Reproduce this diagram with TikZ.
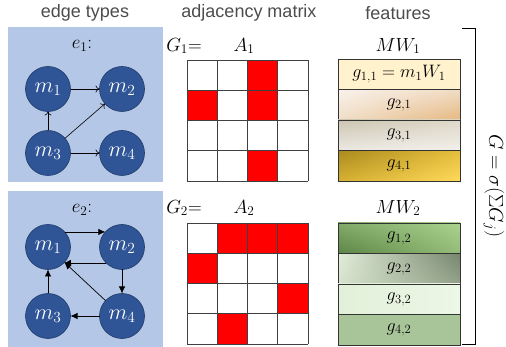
\RequirePackage{fix-cm}
\documentclass[tikz,border=0pt]{standalone}
\usepackage{fontspec}
\newfontfamily\headfont{Liberation Sans}
\usetikzlibrary{positioning}
\usetikzlibrary{arrows.meta}
\usetikzlibrary{shadings}

\definecolor{panelblue}{HTML}{B4C7E7}
\definecolor{nodeblue}{HTML}{2F5597}
\definecolor{nodeline}{HTML}{1F3864}
\definecolor{cellred}{HTML}{FF0000}
% first feature block
\definecolor{creamA}{RGB}{255,242,204}
\definecolor{tanUL}{RGB}{249,242,236}
\definecolor{tanUR}{RGB}{240,220,196}
\definecolor{tanLL}{RGB}{240,222,200}
\definecolor{tanLR}{RGB}{230,184,128}
\definecolor{greyUL}{RGB}{204,197,178}
\definecolor{greyUR}{RGB}{222,216,200}
\definecolor{greyLL}{RGB}{236,233,226}
\definecolor{greyLR}{RGB}{242,240,235}
\definecolor{goldUL}{RGB}{170,138,30}
\definecolor{goldUR}{RGB}{228,190,60}
\definecolor{goldLL}{RGB}{214,176,50}
\definecolor{goldLR}{RGB}{255,218,90}
% second feature block
\definecolor{leafUL}{RGB}{130,170,105}
\definecolor{leafUR}{RGB}{170,210,142}
\definecolor{leafLL}{RGB}{92,134,70}
\definecolor{leafLR}{RGB}{148,188,120}
\definecolor{sageUL}{RGB}{226,237,217}
\definecolor{sageUR}{RGB}{118,134,110}
\definecolor{sageLL}{RGB}{214,227,204}
\definecolor{sageLR}{RGB}{148,162,138}
\definecolor{mintL}{RGB}{226,240,217}
\definecolor{mintR}{RGB}{236,247,230}
\definecolor{mossA}{RGB}{168,197,154}

\tikzstyle{panel} = [fill=panelblue, draw=none]
\tikzstyle{vertex} = [circle, minimum size=45pt, inner sep=0pt, outer sep=0pt,
fill=nodeblue, draw=nodeline, line width=0.6pt, text=white,
font=\fontsize{22}{24}\selectfont]
\tikzstyle{head} = [font=\headfont\fontsize{18}{20}\selectfont, text=black!70]
\tikzstyle{lbl} = [font=\fontsize{19}{21}\selectfont, inner sep=1pt]
\tikzstyle{feat} = [rectangle, minimum width=122pt, minimum height=30.5pt,
outer sep=0pt, draw=black!80, line width=0.6pt,
font=\fontsize{18}{20}\selectfont]
\tikzstyle{openarrow} = [line width=0.6pt, -{To[length=4pt,width=7pt]}]
\tikzstyle{fillarrow} = [line width=0.7pt, -{Latex[length=7pt,width=6.5pt]}]
\tikzstyle{gridline} = [draw=black!75, line width=0.6pt]

\begin{document}
\begin{tikzpicture}[x=1pt, y=-1pt]
  \useasboundingbox (0,0) rectangle (506,347);

  % column headings
  \node[head] (hedge) at (85,13) {edge types};
  \node[head] (hadj) at (249,13) {adjacency matrix};
  \node[head] (hfeat) at (398,13) {features};

  % edge type panels
  \fill[panel] (8,27) rectangle (163,182);
  \fill[panel] (8,191) rectangle (163,347);

  % first edge type
  \node[lbl] (e1) at (82,46) {$e_1$:};
  \node[vertex] (u1) at (48,89) {$m_1$};
  \node[vertex, right=29pt of u1] (u2) {$m_2$};
  \node[vertex, below=19pt of u1] (u3) {$m_3$};
  \node[vertex, right=29pt of u3] (u4) {$m_4$};
  \draw[openarrow] (u1) -- (u2);
  \draw[openarrow] (u3) -- (u1);
  \draw[openarrow] (u3) -- (u2);
  \draw[openarrow] (u3) -- (u4);

  % second edge type
  \node[lbl] (e2) at (82,210) {$e_2$:};
  \node[vertex] (v1) at (48,247) {$m_1$};
  \node[vertex, right=29pt of v1] (v2) {$m_2$};
  \node[vertex, below=24pt of v1] (v3) {$m_3$};
  \node[vertex, right=29pt of v3] (v4) {$m_4$};
  \draw[fillarrow] (v1.42) -- (v2.138);
  \draw[fillarrow] (v2.-135) -- (v1.-45);
  \draw[fillarrow] (v2) -- (v4);
  \draw[fillarrow] (v4) -- (v1);
  \draw[fillarrow] (v4) -- (v3);
  \draw[fillarrow] (v3) -- (v1);

  % adjacency matrices
  \node[lbl] (g1) at (184,46) {$G_1$=};
  \node[lbl] (a1) at (244,46) {$A_1$};
  \foreach \c/\r in {3/1,1/2,3/2,3/4}
    \fill[cellred] (156.75+30.25*\c, 29.75+30.25*\r) rectangle ++(30.25,30.25);
  \foreach \i in {0,...,4} {
    \draw[gridline] (187+30.25*\i,60) -- ++(0,121);
    \draw[gridline] (187,60+30.25*\i) -- ++(121,0);
  }

  \node[lbl] (g2) at (184,208) {$G_2$=};
  \node[lbl] (a2) at (244,208) {$A_2$};
  \foreach \c/\r in {2/1,3/1,4/1,1/2,4/3,2/4}
    \fill[cellred] (156.75+30.25*\c, 192.75+30.25*\r) rectangle ++(30.25,30.25);
  \foreach \i in {0,...,4} {
    \draw[gridline] (187+30.25*\i,223) -- ++(0,121);
    \draw[gridline] (187,223+30.25*\i) -- ++(121,0);
  }

  % feature rows
  \node[lbl] (mw1) at (398,46) {$MW_1$};
  \node[feat, fill=creamA] (f11) at (399,74.25) {$g_{1,1} = m_1W_1$};
  \node[feat, below=0pt of f11, upper left=tanUL, upper right=tanUR,
    lower left=tanLL, lower right=tanLR] (f21) {$g_{2,1}$};
  \node[feat, below=0pt of f21, upper left=greyUL, upper right=greyUR,
    lower left=greyLL, lower right=greyLR] (f31) {$g_{3,1}$};
  \node[feat, below=0pt of f31, upper left=goldUL, upper right=goldUR,
    lower left=goldLL, lower right=goldLR] (f41) {$g_{4,1}$};

  \node[lbl] (mw2) at (398,208) {$MW_2$};
  \node[feat, upper left=leafUL, upper right=leafUR,
    lower left=leafLL, lower right=leafLR] (f12) at (399,238.25) {$g_{1,2}$};
  \node[feat, below=0pt of f12, upper left=sageUL, upper right=sageUR,
    lower left=sageLL, lower right=sageLR] (f22) {$g_{2,2}$};
  \node[feat, below=0pt of f22, left color=mintL, right color=mintR] (f32) {$g_{3,2}$};
  \node[feat, below=0pt of f32, fill=mossA] (f42) {$g_{4,2}$};

  % bracket with the combined graph
  \coordinate (btop) at (462,28);
  \coordinate (bbot) at (462,344);
  \draw[line width=0.8pt] (btop) -- ++(13,0) |- (bbot);
  \node[lbl, font=\fontsize{20}{22}\selectfont, rotate=-90] (sum) at (494,186) {$G = \sigma(\Sigma G_j)$};
\end{tikzpicture}
\end{document}
